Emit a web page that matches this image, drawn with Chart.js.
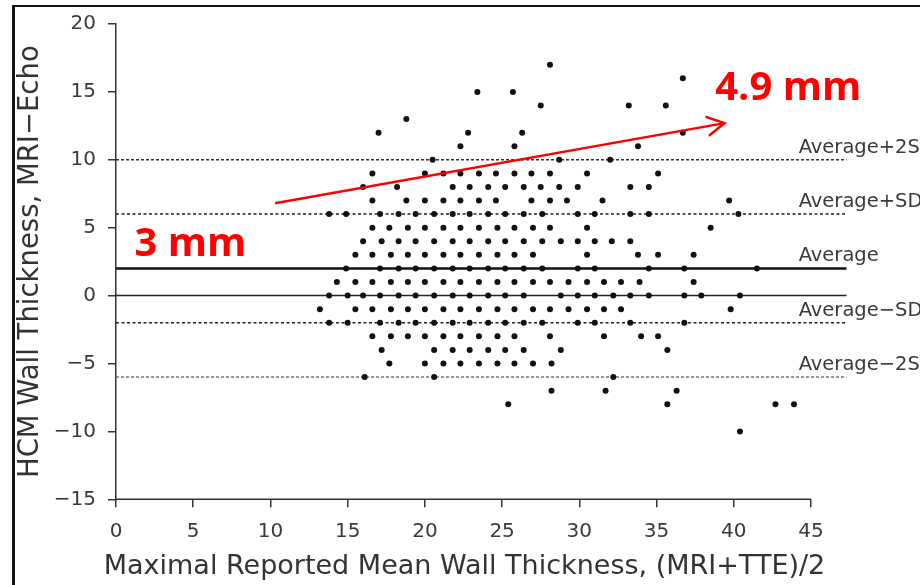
<!DOCTYPE html>
<html>
<head>
<meta charset="utf-8">
<script src="https://cdn.jsdelivr.net/npm/chart.js@4.4.1/dist/chart.umd.min.js"></script>
<style>
  html, body { margin: 0; padding: 0; background: #fff; }
  #wrap { position: relative; width: 920px; height: 585px; overflow: hidden; }
  #frame { position: absolute; left: 12px; top: 5px; width: 940px; height: 620px;
           border-left: 3px solid #111; border-top: 2px solid #111; pointer-events: none; }
</style>
</head>
<body>
<div id="wrap">
  <canvas id="chart" width="920" height="585"></canvas>
  <div id="frame"></div>
</div>
<script>
// Bland-Altman data: one row per difference (MRI - Echo, mm),
// holding the mean wall thickness of every patient on that row
const diffRows = [17, 16, 15, 14, 13, 12, 11, 10, 9, 8, 7, 6, 5, 4, 3, 2, 1, 0, -1, -2, -3, -4, -5, -6, -7, -8, -10];
const meanRows = [
    [28.1],
    [36.7],
    [23.4, 25.7],
    [27.5, 33.2, 35.6],
    [18.8],
    [17.0, 22.8, 26.3, 36.7],
    [22.3, 25.8, 33.8],
    [20.5, 28.7, 32.0],
    [16.6, 20.0, 21.2, 22.3, 23.5, 24.6, 25.8, 26.9, 28.1, 30.5, 35.1],
    [16.0, 18.2, 21.8, 22.9, 24.1, 25.2, 26.4, 27.5, 28.7, 29.9, 33.3, 34.5],
    [16.6, 18.8, 20.0, 21.2, 22.3, 23.5, 24.6, 26.9, 28.1, 29.2, 31.5, 39.7],
    [13.8, 14.9, 17.1, 18.3, 19.4, 20.6, 21.8, 22.9, 24.1, 25.2, 26.4, 27.6, 29.9, 31.0, 33.3, 34.5, 40.3],
    [16.6, 17.7, 18.9, 20.0, 21.2, 22.3, 23.5, 24.7, 25.8, 27.0, 28.1, 30.5, 38.5],
    [16.0, 17.2, 18.3, 19.4, 20.6, 21.8, 22.9, 24.1, 25.2, 26.4, 27.6, 28.8, 29.9, 31.0, 32.1, 33.3],
    [15.5, 16.6, 17.8, 18.9, 20.0, 21.2, 22.3, 23.5, 24.7, 25.8, 27.0, 30.5, 33.8, 35.1, 37.4],
    [14.9, 17.1, 18.3, 19.4, 20.6, 21.8, 22.9, 24.1, 25.2, 26.4, 27.6, 29.9, 31.0, 34.5, 36.8, 41.5],
    [14.3, 15.5, 16.6, 17.8, 18.9, 20.0, 21.2, 22.3, 23.5, 24.7, 25.8, 27.0, 28.1, 29.3, 30.5, 31.6, 32.7, 33.9, 37.4],
    [13.8, 15.0, 16.0, 17.1, 18.3, 19.4, 20.6, 21.8, 22.9, 24.1, 25.2, 26.4, 28.8, 29.9, 31.0, 32.2, 33.3, 34.5, 36.8, 37.9, 40.4],
    [13.2, 15.5, 16.6, 17.8, 18.9, 20.0, 21.2, 22.3, 23.5, 24.7, 25.8, 27.0, 28.1, 29.3, 30.5, 31.6, 32.7, 39.8],
    [13.8, 15.0, 17.1, 18.3, 19.4, 20.6, 21.8, 22.9, 24.1, 25.2, 26.4, 27.6, 29.9, 31.0, 33.3, 36.8],
    [16.6, 17.8, 18.9, 20.0, 21.2, 22.3, 23.5, 24.7, 25.8, 28.1, 31.6, 34.0, 35.1],
    [17.2, 20.6, 21.8, 22.9, 24.1, 25.2, 26.4, 28.8, 35.7],
    [17.7, 20.0, 21.2, 22.3, 23.5, 24.7, 25.8, 27.0, 28.2],
    [16.1, 20.6, 32.2],
    [28.2, 31.7, 36.3],
    [25.4, 35.7, 42.7, 43.9],
    [40.4]
];

// mean difference and +/- 1 and 2 SD
const limitLabels = ['Average+2SD', 'Average+SD', 'Average', 'Average\u2212SD', 'Average\u22122SD'];
const limitValues = [10, 6, 2, -2, -6];
const lineExtent = [0, 47.3];

const xTickValues = [0, 5, 10, 15, 20, 25, 30, 35, 40, 45];
const yTickValues = [-15, -10, -5, 0, 5, 10, 15, 20];

// red annotation added on top of the figure
const arrowFrom = [10.3, 6.8];
const arrowTo = [39.4, 12.7];
const noteTexts = ['3 mm', '4.9 mm'];
const noteX = [1.2, 38.8];
const noteY = [2.95, 14.4];

const points = [];
diffRows.forEach((d, i) => {
    meanRows[i].forEach(m => points.push({ x: m, y: d }));
});

function limitStyle(label) {
    if (label === 'Average') return { borderColor: '#111', borderWidth: 2.5, borderDash: [] };
    if (label.endsWith('2SD')) return { borderColor: label.includes('+') ? '#333' : '#777', borderWidth: 1.5, borderDash: [3, 2] };
    return { borderColor: '#222', borderWidth: 1.5, borderDash: [3, 2.5] };
}

const datasets = [{
    label: 'patients',
    data: points,
    pointRadius: 3,
    pointBackgroundColor: '#111',
    pointBorderWidth: 0,
    order: 0
}];
limitValues.forEach((v, i) => {
    datasets.push(Object.assign({
        type: 'line',
        label: limitLabels[i],
        data: lineExtent.map(x => ({ x: x, y: v })),
        pointRadius: 0,
        order: 1
    }, limitStyle(limitLabels[i])));
});
datasets.push({
    type: 'line',
    label: 'zero',
    data: lineExtent.map(x => ({ x: x, y: 0 })),
    borderColor: '#222',
    borderWidth: 1.5,
    pointRadius: 0,
    order: 1
});

const fmt = v => v < 0 ? '\u2212' + Math.abs(v) : String(v);

// x axis line (only over the labelled range), limit labels and red notes
const overlay = {
    id: 'overlay',
    afterDraw(chart) {
        const ctx = chart.ctx;
        const x = chart.scales.x, y = chart.scales.y;
        ctx.save();
        ctx.strokeStyle = '#333';
        ctx.lineWidth = 1.5;
        ctx.beginPath();
        ctx.moveTo(x.getPixelForValue(xTickValues[0]) - 0.75, y.bottom);
        ctx.lineTo(x.getPixelForValue(xTickValues[xTickValues.length - 1]), y.bottom);
        ctx.stroke();

        ctx.font = '19.5px "DejaVu Sans"';
        ctx.fillStyle = '#3a3a3a';
        ctx.textAlign = 'left';
        ctx.textBaseline = 'alphabetic';
        limitLabels.forEach((t, i) => {
            ctx.fillText(t, x.getPixelForValue(44.2), y.getPixelForValue(limitValues[i]) - 7);
        });

        const x1 = x.getPixelForValue(arrowFrom[0]), y1 = y.getPixelForValue(arrowFrom[1]);
        const x2 = x.getPixelForValue(arrowTo[0]), y2 = y.getPixelForValue(arrowTo[1]);
        const a = Math.atan2(y2 - y1, x2 - x1);
        ctx.strokeStyle = '#ff0000';
        ctx.lineWidth = 2.5;
        ctx.beginPath();
        ctx.moveTo(x1, y1);
        ctx.lineTo(x2, y2);
        ctx.moveTo(x2 - 20 * Math.cos(a - 0.5), y2 - 20 * Math.sin(a - 0.5));
        ctx.lineTo(x2, y2);
        ctx.lineTo(x2 - 20 * Math.cos(a + 0.5), y2 - 20 * Math.sin(a + 0.5));
        ctx.stroke();

        ctx.fillStyle = '#ff0000';
        ctx.font = 'bold 40px "Open Sans"';
        noteTexts.forEach((t, i) => {
            ctx.fillText(t, x.getPixelForValue(noteX[i]), y.getPixelForValue(noteY[i]));
        });
        ctx.restore();
    }
};

const tickFont = { family: 'DejaVu Sans', size: 20 };

new Chart(document.getElementById('chart').getContext('2d'), {
    type: 'scatter',
    data: { datasets: datasets },
    options: {
        responsive: false,
        animation: false,
        devicePixelRatio: 1,
        layout: { padding: { left: 10, right: 1, top: 21, bottom: 0 } },
        plugins: {
            legend: { display: false },
            tooltip: { enabled: false },
            title: {
                display: true,
                position: 'bottom',
                text: 'Maximal Reported Mean Wall Thickness, (MRI+TTE)/2',
                color: '#333',
                font: { family: 'DejaVu Sans', size: 27, weight: 'normal', lineHeight: 1.1 },
                padding: { top: 3, bottom: 3 }
            }
        },
        scales: {
            x: {
                type: 'linear',
                min: 0,
                max: 51.8,
                afterBuildTicks: s => { s.ticks = xTickValues.map(v => ({ value: v })); },
                afterFit: s => { s.height = 50; },
                border: { display: false },
                grid: { drawOnChartArea: false, drawTicks: true, tickLength: 8, color: '#333', lineWidth: 1.5 },
                ticks: { padding: 12, color: '#3a3a3a', font: tickFont, maxRotation: 0, autoSkip: false, callback: fmt }
            },
            y: {
                min: -15,
                max: 20,
                afterBuildTicks: s => { s.ticks = yTickValues.map(v => ({ value: v })); },
                afterFit: s => { s.width = 106; },
                border: { display: true, color: '#333', width: 1.5 },
                grid: { drawOnChartArea: false, drawTicks: true, tickLength: 8, color: '#333', lineWidth: 1.5 },
                ticks: { padding: 12, color: '#3a3a3a', font: tickFont, autoSkip: false, callback: fmt },
                title: {
                    display: true,
                    text: 'HCM Wall Thickness, MRI\u2212Echo',
                    color: '#333',
                    font: { family: 'DejaVu Sans', size: 27.5, weight: 'normal', lineHeight: 1.2 },
                    padding: { top: 4, bottom: 0 }
                }
            }
        }
    },
    plugins: [overlay]
});
</script>
</body>
</html>
